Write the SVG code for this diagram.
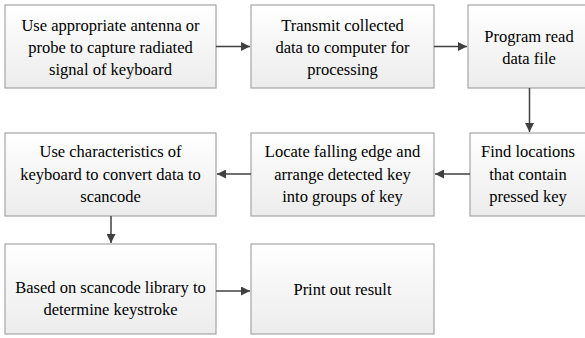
<svg xmlns="http://www.w3.org/2000/svg" width="585" height="338" viewBox="0 0 585 338">
  <linearGradient id="boxFill" x1="0" y1="0" x2="0" y2="1">
    <stop offset="0" stop-color="#ffffff"/>
    <stop offset="1" stop-color="#ececec"/>
  </linearGradient>
  <marker id="arrow" viewBox="0 0 10 10" refX="10" refY="5" markerWidth="12" markerHeight="9" markerUnits="userSpaceOnUse" orient="auto">
    <path d="M0,0 L10,5 L0,10 Z" fill="#404040"/>
  </marker>

  <!-- process boxes -->
  <g id="n1">
    <rect fill="url(#boxFill)" stroke="#a6a6a6" stroke-width="1.2" x="5" y="5" width="211" height="83"/>
    <text font-family="Liberation Serif" font-size="16.5" text-anchor="middle" x="110.5" y="31">Use appropriate antenna or</text>
    <text font-family="Liberation Serif" font-size="16.5" text-anchor="middle" x="110.5" y="53">probe to capture radiated</text>
    <text font-family="Liberation Serif" font-size="16.5" text-anchor="middle" x="110.5" y="75">signal of keyboard</text>
  </g>
  <g id="n2">
    <rect fill="url(#boxFill)" stroke="#a6a6a6" stroke-width="1.2" x="251" y="5" width="183" height="83"/>
    <text font-family="Liberation Serif" font-size="16.5" text-anchor="middle" x="342.5" y="31">Transmit collected</text>
    <text font-family="Liberation Serif" font-size="16.5" text-anchor="middle" x="342.5" y="53">data to computer for</text>
    <text font-family="Liberation Serif" font-size="16.5" text-anchor="middle" x="342.5" y="75">processing</text>
  </g>
  <g id="n3">
    <rect fill="url(#boxFill)" stroke="#a6a6a6" stroke-width="1.2" x="468" y="5" width="122" height="83"/>
    <text font-family="Liberation Serif" font-size="16.5" text-anchor="middle" x="529" y="41.5">Program read</text>
    <text font-family="Liberation Serif" font-size="16.5" text-anchor="middle" x="529" y="63.5">data file</text>
  </g>
  <g id="n4">
    <rect fill="url(#boxFill)" stroke="#a6a6a6" stroke-width="1.2" x="470" y="133" width="120" height="83"/>
    <text font-family="Liberation Serif" font-size="16.5" text-anchor="middle" x="528" y="157">Find locations</text>
    <text font-family="Liberation Serif" font-size="16.5" text-anchor="middle" x="528" y="179.5">that contain</text>
    <text font-family="Liberation Serif" font-size="16.5" text-anchor="middle" x="528" y="202">pressed key</text>
  </g>
  <g id="n5">
    <rect fill="url(#boxFill)" stroke="#a6a6a6" stroke-width="1.2" x="251" y="133" width="183" height="83"/>
    <text font-family="Liberation Serif" font-size="16.5" text-anchor="middle" x="342.5" y="157">Locate falling edge and</text>
    <text font-family="Liberation Serif" font-size="16.5" text-anchor="middle" x="342.5" y="179.5">arrange detected key</text>
    <text font-family="Liberation Serif" font-size="16.5" text-anchor="middle" x="342.5" y="202">into groups of key</text>
  </g>
  <g id="n6">
    <rect fill="url(#boxFill)" stroke="#a6a6a6" stroke-width="1.2" x="5" y="133" width="211" height="83"/>
    <text font-family="Liberation Serif" font-size="16.5" text-anchor="middle" x="110.5" y="157">Use characteristics of</text>
    <text font-family="Liberation Serif" font-size="16.5" text-anchor="middle" x="110.5" y="179.5">keyboard to convert data to</text>
    <text font-family="Liberation Serif" font-size="16.5" text-anchor="middle" x="110.5" y="202">scancode</text>
  </g>
  <g id="n7">
    <rect fill="url(#boxFill)" stroke="#a6a6a6" stroke-width="1.2" x="5" y="244" width="211" height="90"/>
    <text font-family="Liberation Serif" font-size="16.5" text-anchor="middle" x="110.5" y="293">Based on scancode library to</text>
    <text font-family="Liberation Serif" font-size="16.5" text-anchor="middle" x="110.5" y="315">determine keystroke</text>
  </g>
  <g id="n8">
    <rect fill="url(#boxFill)" stroke="#a6a6a6" stroke-width="1.2" x="251" y="244" width="183" height="90"/>
    <text font-family="Liberation Serif" font-size="16.5" text-anchor="middle" x="342.5" y="295">Print out result</text>
  </g>

  <!-- flow arrows -->
  <g id="connectors" stroke="#404040" stroke-width="1.5" fill="none" marker-end="url(#arrow)">
    <path d="M216,46.5 H250"/>
    <path d="M434,46.5 H467"/>
    <path d="M529.5,88 V132"/>
    <path d="M470,174 H435"/>
    <path d="M251,174 H217"/>
    <path d="M111,216 V243"/>
    <path d="M216,291 H250"/>
  </g>
</svg>
